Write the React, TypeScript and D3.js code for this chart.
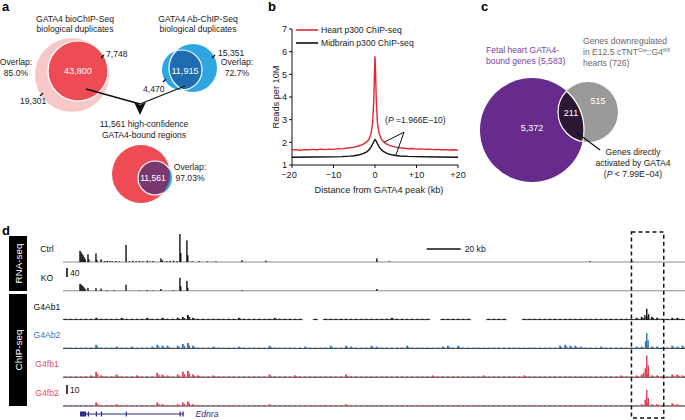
import React from 'react';
import * as d3 from 'd3';

const FONT = '"Liberation Sans", Arial, Helvetica, sans-serif';

// ---------------- Panel a data ----------------
const bioChipTitle = ['GATA4 bioChIP-Seq', 'biological duplicates'];
const bioChipCounts = [19301, 43800, 7748]; // rep1 only, overlap, rep2 only
const abChipTitle = ['GATA4 Ab-ChIP-Seq', 'biological duplicates'];
const abChipCounts = [4470, 11915, 15351];
const highConfTitle = ['11,561 high-confidence', 'GATA4-bound regions'];
const highConfCount = [11561];
const overlapPercents = ['85.0%', '72.7%', '97.03%'];

// ---------------- Panel b data ----------------
const heartX = [-20, -19, -18, -17, -16, -15, -14, -13, -12, -11, -10, -9, -8, -7, -6, -5, -4, -3, -2, -1.5, -1, -0.6, -0.3, -0.1, 0, 0.1, 0.3, 0.6, 1, 1.5, 2, 3, 4, 5, 6, 7, 8, 9, 10, 11, 12, 13, 14, 15, 16, 17, 18, 19, 20];
const heartP300 = [1.66, 1.68, 1.65, 1.68, 1.67, 1.69, 1.67, 1.7, 1.68, 1.7, 1.69, 1.72, 1.71, 1.74, 1.76, 1.79, 1.84, 1.9, 2.02, 2.12, 2.35, 2.8, 3.8, 5.2, 5.8, 5.3, 3.9, 2.85, 2.4, 2.15, 2.03, 1.9, 1.83, 1.79, 1.76, 1.74, 1.72, 1.73, 1.7, 1.71, 1.69, 1.7, 1.68, 1.69, 1.67, 1.68, 1.66, 1.67, 1.65];
const midbrainX = [-20, -15, -10, -8, -6, -5, -4, -3, -2, -1.5, -1, -0.5, -0.2, 0, 0.2, 0.5, 1, 1.5, 2, 3, 4, 5, 6, 8, 10, 15, 20];
const midbrainP300 = [1.34, 1.35, 1.36, 1.37, 1.39, 1.41, 1.44, 1.49, 1.58, 1.66, 1.78, 1.95, 2.07, 2.12, 2.08, 1.97, 1.8, 1.68, 1.6, 1.5, 1.45, 1.42, 1.4, 1.38, 1.37, 1.35, 1.34];
const profileYTicks = [1, 2, 3, 4, 5, 6, 7];
const profileXTicks = [-20, -10, 0, 10, 20];
const profileXTickLabels = ['\u221220', '\u221210', '0', '+10', '+20'];
const profileSeries = ['Heart p300 ChIP-seq', 'Midbrain p300 ChIP-seq'];
const profilePValue = '1.966E\u221210';

// ---------------- Panel c data ----------------
const vennCTotals = [5583, 726];
const vennCCounts = [5372, 211, 515];
const vennCPValue = '7.99E\u221204';

// ---------------- Panel d data ----------------
const trackNames = ['Ctrl', 'KO', 'G4Ab1', 'G4Ab2', 'G4fb1', 'G4fb2'];
// [position kb, reads]
const ctrlPeaks: [number, number][] = [
  [10.0, 50], [10.6, 44], [11.2, 36], [11.8, 30], [12.4, 22], [13.0, 14],
  [14.7, 34], [15.2, 12], [19.4, 38], [19.9, 10], [22.4, 12],
  [24.5, 4], [26, 5], [27.5, 4], [29, 3], [31, 4], [33, 3],
  [37.1, 76], [39, 3], [41, 5], [43, 3], [45, 4], [47, 3], [49.5, 6], [51, 3], [53, 4],
  [57.6, 16], [58.5, 8], [61, 4], [63, 5], [65, 6], [67, 4],
  [68.8, 124], [69.3, 40], [72.9, 96], [73.4, 30],
  [76, 3], [80, 4], [85, 3], [90, 3], [105.3, 8], [119.4, 6], [184.7, 16], [192, 3], [310, 3], [335, 3],
];
const koPeaks: [number, number][] = [
  [10.0, 31], [10.6, 28], [11.2, 24], [11.8, 20], [12.4, 14], [13.0, 8],
  [14.7, 13], [19.4, 12], [22.4, 10], [26, 3], [30, 3],
  [37.1, 27], [45, 2], [49.5, 4], [53, 2], [57.6, 8], [65, 3],
  [68.8, 58], [69.3, 20], [72.9, 44], [73.4, 14], [105.3, 3], [184.7, 8],
];
// background ChIP signal in 3-kb bins ('.' = no data)
const g4ab1Signal = '1111112111' + '1211112112' + '1123521111' + '1111211111' + '1211111..1' + '.111111111' + '1111211111' + '11..111111' + '...1111...' + '1111111111' + '1111111111' + '1123332112' + '21';
const g4ab2Signal = '1111114111' + '2112111243' + '3135631112' + '1111211111' + '3111111211' + '1131132111' + '3211111311' + '1111231311' + '1111111111' + '1111111343' + '3211121111' + '1122322113' + '23';
const g4fb1Signal = '1111126211' + '3111211153' + '2136732112' + '1111111111' + '3111121111' + '1111131111' + '1111111111' + '1121111111' + '1121111111' + '2111111111' + '1111111112' + '1123422113' + '32';
const g4fb2Signal = '1111114111' + '2111111142' + '1124521111' + '1111111111' + '2111111111' + '1111121111' + '1111111111' + '1111111111' + '1111111111' + '1111111111' + '1111111111' + '1112322113' + '21';
const g4ab1Peaks: [number, number][] = [[343.5, 12], [342.4, 5], [344.6, 6]];
const g4ab2Peaks: [number, number][] = [[343.5, 17], [342.8, 8], [344.3, 9]];
const g4fb1Peaks: [number, number][] = [[343.5, 24], [342.6, 10], [344.4, 13], [341.6, 5]];
const g4fb2Peaks: [number, number][] = [[343.5, 18], [342.6, 7], [344.4, 9]];
const ednraExons: [number, number][] = [[10.0, 13.6], [14.6, 15.0], [19.3, 19.7], [22.3, 22.7], [36.9, 37.3], [68.6, 69.0], [70.3, 70.9]];
const regionKb = [0, 366];
const scaleBarKb = [214, 234];
const highlightKb = [334.5, 353.5];
const rnaScaleValue = [40];
const chipScaleValue = [10];

// ---------------- layout / styles ----------------
const C = {
  pale: '#f8c8c8', red: '#ee4b55', lblue: '#2ea6df', dblue: '#1f6cb3', bpurple: '#7a386f',
  cpurple: '#672b8d', cgray: '#9a9a9a', cdark: '#2a1835', ptext: '#7a43a4', gtext: '#6a6a6a',
  track2: '#2f6db4', trackRed: '#e43a4f', labelBlue: '#3c77bf', labelRed: '#e2506a', gene: '#2a2a88',
};
const FS = 8.6;

const fmt = d3.format(',');

export default function App() {
  // ---------- panel b scales ----------
  const bx = d3.scaleLinear().domain([-20, 20]).range([292, 458]);
  const by = d3.scaleLinear().domain([1, 7]).range([165, 29]);
  const line = d3.line<[number, number]>().x(d => bx(d[0])).y(d => by(d[1]));
  const heartPts = heartX.map((x, i) => [x, heartP300[i]] as [number, number]);
  const midPts = midbrainX.map((x, i) => [x, midbrainP300[i]] as [number, number]);
  const heartAt = (x: number) => d3.scaleLinear().domain(heartX).range(heartP300)(x);
  const midAt = (x: number) => d3.scaleLinear().domain(midbrainX).range(midbrainP300)(x);

  // ---------- panel d scales ----------
  const dx = d3.scaleLinear().domain(regionKb).range([63, 685]);
  const rnaY = d3.scaleLinear().domain([0, 40]).range([0, 9]);
  const chipY = d3.scaleLinear().domain([0, 10]).range([0, 9]);
  const bases = trackNames.map((_, i) => 262 + i * 28.8);

  const parseSig = (sig: string) => {
    const bw = (regionKb[1] - regionKb[0]) / sig.length;
    return sig.split('').map((ch, i) => ({ kb: regionKb[0] + (i + 0.5) * bw, lo: regionKb[0] + i * bw, hi: regionKb[0] + (i + 1) * bw, v: ch === '.' ? null : +ch }));
  };
  const bars = (pk: [number, number][], base: number, ys: d3.ScaleLinear<number, number>, color: string) =>
    pk.map((p, i) => (
      <rect key={i} x={dx(p[0]) - 0.7} width={1.4} y={base - ys(p[1])} height={ys(p[1])} fill={color} />
    ));

  // ---------- venn layout ----------
  const A = {
    pale: { cx: 72, cy: 75, r: 37 }, red: { cx: 78, cy: 71, r: 30 },
    bl: { cx: 182, cy: 70, r: 20 }, br: { cx: 193, cy: 68, r: 24 },
    botRed: { cx: 141, cy: 174, r: 29 }, botBlue: { cx: 155, cy: 178, r: 17 },
  };
  const V = { p: { cx: 532, cy: 130, r: 52 }, g: { cx: 588, cy: 112, r: 30 } };

  const chipTracks = [
    { sig: g4ab1Signal, pk: g4ab1Peaks, color: '#111' },
    { sig: g4ab2Signal, pk: g4ab2Peaks, color: C.track2 },
    { sig: g4fb1Signal, pk: g4fb1Peaks, color: C.trackRed },
    { sig: g4fb2Signal, pk: g4fb2Peaks, color: C.trackRed },
  ];
  const labelColors = ['#111', '#111', '#111', C.labelBlue, C.labelRed, C.labelRed];

  return (
    <svg width={685} height={420} style={{ position: 'absolute', left: 0, top: 0, background: '#fff' }} fontFamily={FONT}>
      <defs>
        <clipPath id="clipBR"><circle cx={A.br.cx} cy={A.br.cy} r={A.br.r} /></clipPath>
        <clipPath id="clipBL"><circle cx={A.bl.cx} cy={A.bl.cy} r={A.bl.r} /></clipPath>
        <clipPath id="clipBotRed"><circle cx={A.botRed.cx} cy={A.botRed.cy} r={A.botRed.r} /></clipPath>
        <clipPath id="clipCG"><circle cx={V.g.cx} cy={V.g.cy} r={V.g.r} /></clipPath>
        <clipPath id="clipCP"><circle cx={V.p.cx} cy={V.p.cy} r={V.p.r} /></clipPath>
      </defs>

      {/* ================= Panel a ================= */}
      <text x={2} y={11} fontSize={13} fontWeight="bold">a</text>
      {bioChipTitle.map((t, i) => (
        <text key={i} x={75} y={22 + i * 10} fontSize={FS} textAnchor="middle" fill="#222">{t}</text>
      ))}
      <circle {...A.pale} fill={C.pale} />
      <circle {...A.red} fill={C.red} stroke="#fff" strokeWidth={1.2} />
      <text x={A.red.cx} y={74} fontSize={FS + 0.5} textAnchor="middle" fill="#fff">{fmt(bioChipCounts[1])}</text>
      <line x1={101} y1={58} x2={104} y2={55} stroke="#111" strokeWidth={1.2} />
      <text x={106} y={57} fontSize={FS} fill="#222">{fmt(bioChipCounts[2])}</text>
      <line x1={40} y1={96} x2={43} y2={93} stroke="#111" strokeWidth={1.2} />
      <text x={20} y={104} fontSize={FS} fill="#222">{fmt(bioChipCounts[0])}</text>
      <text x={16} y={65} fontSize={FS} textAnchor="middle" fill="#222">Overlap:</text>
      <text x={16} y={76} fontSize={FS} textAnchor="middle" fill="#222">{overlapPercents[0]}</text>

      {abChipTitle.map((t, i) => (
        <text key={i} x={198} y={22 + i * 10} fontSize={FS} textAnchor="middle" fill="#222">{t}</text>
      ))}
      <circle {...A.bl} fill={C.lblue} />
      <circle {...A.br} fill={C.lblue} />
      <g clipPath="url(#clipBR)"><circle {...A.bl} fill={C.dblue} stroke="#fff" strokeWidth={1.2} /></g>
      <g clipPath="url(#clipBL)"><circle {...A.br} fill="none" stroke="#fff" strokeWidth={1.2} /></g>
      <text x={185} y={74} fontSize={FS + 0.5} textAnchor="middle" fill="#fff">{fmt(abChipCounts[1])}</text>
      <line x1={163} y1={82} x2={166} y2={79} stroke="#111" strokeWidth={1.2} />
      <text x={143} y={92} fontSize={FS} fill="#222">{fmt(abChipCounts[0])}</text>
      <line x1={212} y1={58} x2={215} y2={55} stroke="#111" strokeWidth={1.2} />
      <text x={218} y={56} fontSize={FS} fill="#222">{fmt(abChipCounts[2])}</text>
      <text x={237} y={65} fontSize={FS} textAnchor="middle" fill="#222">Overlap:</text>
      <text x={237} y={76} fontSize={FS} textAnchor="middle" fill="#222">{overlapPercents[1]}</text>

      {/* arrows */}
      <line x1={86} y1={89} x2={140} y2={104} stroke="#111" strokeWidth={1.3} />
      <line x1={185} y1={86} x2={140} y2={104} stroke="#111" strokeWidth={1.3} />
      <path d="M134,102 L140,105 L146,102 L140,115 Z" fill="#111" />
      {highConfTitle.map((t, i) => (
        <text key={i} x={144} y={127 + i * 11} fontSize={FS} textAnchor="middle" fill="#222">{t}</text>
      ))}
      <circle {...A.botRed} fill={C.red} />
      <circle {...A.botBlue} fill={C.lblue} />
      <g clipPath="url(#clipBotRed)"><circle {...A.botBlue} fill={C.bpurple} stroke="#fff" strokeWidth={1.2} /></g>
      <text x={A.botBlue.cx - 2} y={181} fontSize={FS} textAnchor="middle" fill="#fff">{fmt(highConfCount[0])}</text>
      <text x={190} y={170} fontSize={FS} textAnchor="middle" fill="#222">Overlap:</text>
      <text x={190} y={181} fontSize={FS} textAnchor="middle" fill="#222">{overlapPercents[2]}</text>

      {/* ================= Panel b ================= */}
      <text x={268} y={11} fontSize={13} fontWeight="bold">b</text>
      <line x1={bx(-20)} x2={bx(-20)} y1={by(1)} y2={by(7)} stroke="#111" strokeWidth={1} />
      <line x1={bx(-20)} x2={bx(20)} y1={by(1)} y2={by(1)} stroke="#111" strokeWidth={1} />
      {profileYTicks.map(t => (
        <g key={t}>
          <line x1={bx(-20) - 3} x2={bx(-20)} y1={by(t)} y2={by(t)} stroke="#111" />
          <text x={bx(-20) - 5} y={by(t) + 3.2} fontSize={FS + 0.6} textAnchor="end" fill="#222">{t}</text>
        </g>
      ))}
      {profileXTicks.map((t, i) => (
        <g key={t}>
          <line x1={bx(t)} x2={bx(t)} y1={by(1)} y2={by(1) + 3} stroke="#111" />
          <text x={bx(t) - (i === 0 ? 3 : 0)} y={by(1) + 13} fontSize={FS + 0.6} textAnchor="middle" fill="#222">{profileXTickLabels[i]}</text>
        </g>
      ))}
      <text transform={`translate(279,${by(4)}) rotate(-90)`} fontSize={FS + 0.6} textAnchor="middle" fill="#222">Reads per 10M</text>
      <text x={bx(0) + 4} y={193} fontSize={FS + 0.6} textAnchor="middle" fill="#222">Distance from GATA4 peak (kb)</text>
      <path d={line(midPts) || ''} fill="none" stroke="#111" strokeWidth={1.4} />
      <path d={line(heartPts) || ''} fill="none" stroke="#e3262f" strokeWidth={1.4} />
      <line x1={296} x2={318} y1={30} y2={30} stroke="#e3262f" strokeWidth={1.6} />
      <text x={321} y={33} fontSize={FS} fill="#222">{profileSeries[0]}</text>
      <line x1={296} x2={318} y1={43} y2={43} stroke="#111" strokeWidth={1.6} />
      <text x={321} y={46} fontSize={FS} fill="#222">{profileSeries[1]}</text>
      <line x1={bx(7)} y1={by(2.45)} x2={bx(2.2)} y2={by(heartAt(2.2))} stroke="#111" strokeWidth={1} />
      <line x1={bx(7)} y1={by(2.45)} x2={bx(5)} y2={by(midAt(5))} stroke="#111" strokeWidth={1} />
      <text x={385} y={123} fontSize={FS} fill="#222">(<tspan fontStyle="italic">P</tspan> ={profilePValue})</text>

      {/* ================= Panel c ================= */}
      <text x={481} y={11} fontSize={13} fontWeight="bold">c</text>
      <text x={486} y={53} fontSize={FS} fill={C.ptext}>Fetal heart GATA4-</text>
      <text x={486} y={64} fontSize={FS} fill={C.ptext}>bound genes ({fmt(vennCTotals[0])})</text>
      <text x={583} y={44} fontSize={FS} fill={C.gtext}>Genes downregulated</text>
      <text x={583} y={55} fontSize={FS} fill={C.gtext}>in E12.5 cTNT<tspan fontSize={5.5} dy={-3}>Cre</tspan><tspan dy={3}>::G4</tspan><tspan fontSize={5.5} dy={-3}>fl/fl</tspan></text>
      <text x={583} y={66} fontSize={FS} fill={C.gtext}>hearts ({fmt(vennCTotals[1])})</text>
      <circle {...V.p} fill={C.cpurple} />
      <circle {...V.g} fill={C.cgray} />
      <g clipPath="url(#clipCP)"><circle {...V.g} fill={C.cdark} stroke="#fff" strokeWidth={1.2} /></g>
      <g clipPath="url(#clipCG)"><circle {...V.p} fill="none" stroke="#fff" strokeWidth={1.2} /></g>
      <text x={532} y={131} fontSize={FS + 0.4} textAnchor="middle" fill="#fff">{fmt(vennCCounts[0])}</text>
      <text x={571} y={116} fontSize={FS + 0.4} textAnchor="middle" fill="#fff">{fmt(vennCCounts[1])}</text>
      <text x={598} y={104} fontSize={FS + 0.4} textAnchor="middle" fill="#fff">{fmt(vennCCounts[2])}</text>
      <line x1={576} y1={132} x2={600} y2={150} stroke="#111" strokeWidth={1.2} />
      <text x={633} y={155} fontSize={FS} textAnchor="middle" fill="#222">Genes directly</text>
      <text x={633} y={166} fontSize={FS} textAnchor="middle" fill="#222">activated by GATA4</text>
      <text x={633} y={177} fontSize={FS} textAnchor="middle" fill="#222">(<tspan fontStyle="italic">P</tspan> {'<'} {vennCPValue})</text>

      {/* ================= Panel d ================= */}
      <text x={2} y={235} fontSize={13} fontWeight="bold">d</text>
      <rect x={9} y={236} width={18} height={55} fill="#000" />
      <rect x={9} y={294} width={18} height={112} fill="#000" />
      <text transform="translate(22,263.5) rotate(-90)" fontSize={FS + 1.2} textAnchor="middle" fill="#fff">RNA-seq</text>
      <text transform="translate(22,350) rotate(-90)" fontSize={FS + 1.2} textAnchor="middle" fill="#fff">ChIP-seq</text>
      {trackNames.map((n, i) => (
        <text key={n} x={47} y={bases[i] - 10} fontSize={FS} textAnchor="middle" fill={labelColors[i]}>{n}</text>
      ))}
      {/* RNA tracks */}
      {[ctrlPeaks, koPeaks].map((pk, i) => (
        <g key={i}>
          <line x1={dx(regionKb[0])} x2={dx(regionKb[1])} y1={bases[i]} y2={bases[i]} stroke="#8a8a8a" strokeWidth={1} />
          {bars(pk, bases[i], rnaY, '#111')}
        </g>
      ))}
      {/* ChIP tracks */}
      {chipTracks.map((t, j) => {
        const base = bases[j + 2];
        const pts = parseSig(t.sig);
        return (
          <g key={j}>
            {pts.map((p, i) => p.v === null ? null : (
              <g key={i}>
                <line x1={dx(p.lo)} x2={dx(p.hi)} y1={base} y2={base} stroke="#111" strokeWidth={0.9} />
                <rect x={dx(p.kb) - 0.9} width={1.8} y={base - chipY(p.v)} height={chipY(p.v)} fill={t.color} />
                {p.v > 1 && <rect x={dx(p.kb) + 1.1} width={1.2} y={base - chipY(p.v) * 0.55} height={chipY(p.v) * 0.55} fill={t.color} />}
              </g>
            ))}
            {bars(t.pk, base, chipY, t.color)}
          </g>
        );
      })}
      {/* scale bars */}
      <line x1={67} x2={67} y1={268} y2={268 + rnaY(rnaScaleValue[0])} stroke="#111" strokeWidth={1.6} />
      <text x={70} y={276} fontSize={FS} fill="#222">{rnaScaleValue[0]}</text>
      <line x1={67} x2={67} y1={385} y2={385 + chipY(chipScaleValue[0])} stroke="#111" strokeWidth={1.6} />
      <text x={70} y={393} fontSize={FS} fill="#222">{chipScaleValue[0]}</text>
      <line x1={dx(scaleBarKb[0])} x2={dx(scaleBarKb[1])} y1={249} y2={249} stroke="#111" strokeWidth={1.3} />
      <text x={dx(scaleBarKb[1]) + 4} y={252} fontSize={FS} fill="#222">20 kb</text>
      {/* gene */}
      <line x1={dx(ednraExons[0][0])} x2={dx(ednraExons[ednraExons.length - 1][1])} y1={414} y2={414} stroke={C.gene} strokeWidth={1} />
      {ednraExons.map((e, i) => (
        <rect key={i} x={dx(e[0])} width={Math.max(1.2, dx(e[1]) - dx(e[0]))} y={411.5} height={5} fill={C.gene} />
      ))}
      <text x={dx(ednraExons[ednraExons.length - 1][1]) + 12} y={417} fontSize={FS} fontStyle="italic" fill={C.gene}>Ednra</text>
      {/* highlight box */}
      <rect x={dx(highlightKb[0])} y={232} width={dx(highlightKb[1]) - dx(highlightKb[0])} height={186} fill="none" stroke="#111" strokeWidth={1.5} strokeDasharray="4,3" />
    </svg>
  );
}
